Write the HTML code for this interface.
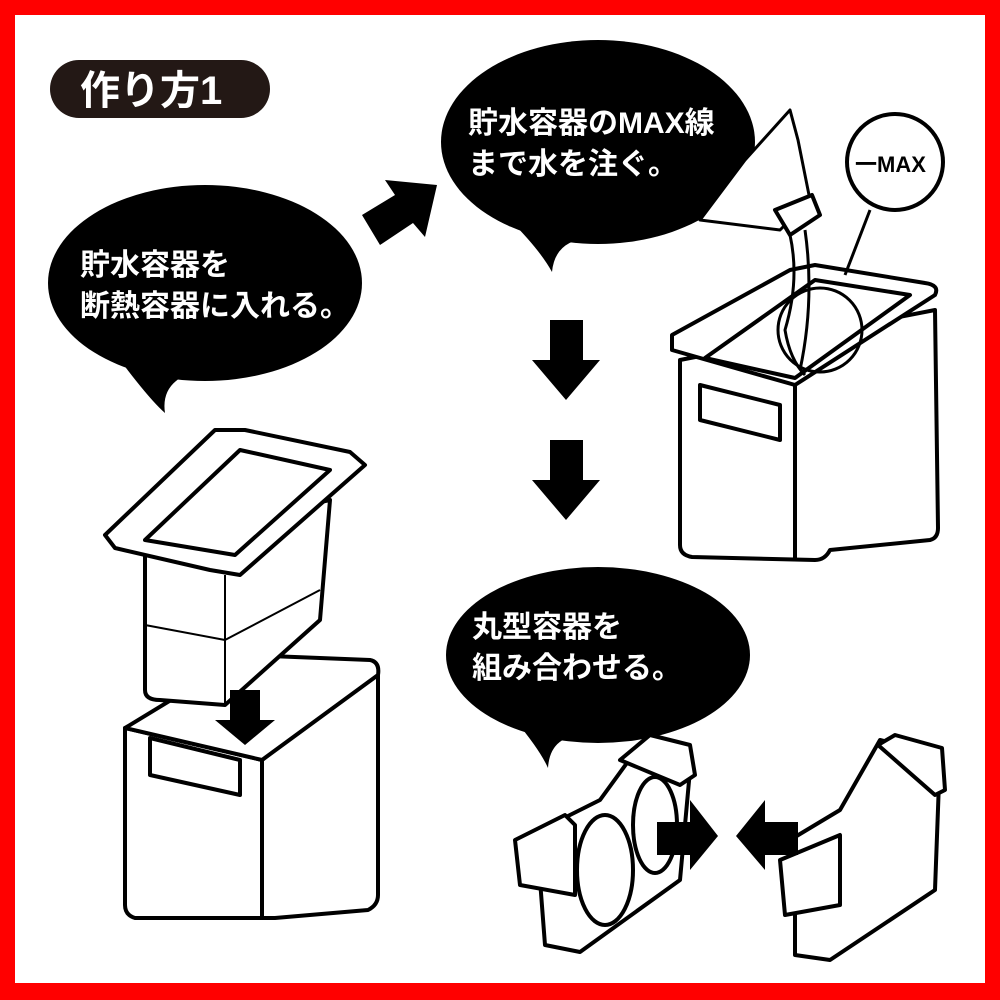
<!DOCTYPE html>
<html><head><meta charset="utf-8"><style>
html,body{margin:0;padding:0;background:#fff}
svg{display:block}
text{font-family:"Liberation Sans","Noto Sans CJK JP",sans-serif;fill:#fff;font-weight:bold}
</style></head><body>
<svg width="1000" height="1000" viewBox="0 0 1000 1000" xmlns="http://www.w3.org/2000/svg">
<rect x="0" y="0" width="1000" height="1000" fill="#f00"/>
<rect x="15" y="15" width="970" height="968" fill="#fff"/>

<rect x="50" y="60" width="220" height="58" rx="29" fill="#231815"/>
<text x="80" y="104" font-size="40">作り方1</text>

<ellipse cx="205" cy="283" rx="157" ry="98" fill="#000"/>
<path d="M120 360 Q150 400 165 413 Q160 380 200 370 Z" fill="#000"/>
<text x="80" y="275" font-size="30" font-weight="normal">貯水容器を</text>
<text x="80" y="316" font-size="30" font-weight="normal">断熱容器に入れる。</text>

<ellipse cx="598" cy="142" rx="157" ry="102" fill="#000"/>
<path d="M510 220 Q540 250 552 272 Q555 240 590 238 Z" fill="#000"/>
<text x="468" y="133" font-size="30" font-weight="normal">貯水容器のMAX線</text>
<text x="468" y="174" font-size="30" font-weight="normal">まで水を注ぐ。</text>

<ellipse cx="598" cy="655" rx="152" ry="88" fill="#000"/>
<path d="M515 720 Q540 750 548 768 Q550 735 585 735 Z" fill="#000"/>
<text x="472" y="637" font-size="30" font-weight="normal">丸型容器を</text>
<text x="472" y="678" font-size="30" font-weight="normal">組み合わせる。</text>

<polygon points="362,215 395,195 385,180 437,185 425,237 413,223 380,245" fill="#000"/>
<polygon points="550,320 583,320 583,360 600,360 566,400 532,360 550,360" fill="#000"/>
<polygon points="550,440 583,440 583,480 600,480 566,520 532,480 550,480" fill="#000"/>

<g fill="#fff" stroke="#000" stroke-width="4" stroke-linejoin="round">
<path d="M125 728 L262 760 L378 668 L378 895 Q378 905 368 910 L275 918 L135 918 Q125 915 125 905 Z"/>
<path d="M125 728 L245 655 L370 660 Q380 662 378 675 L262 760 Z"/>
<path d="M262 760 L262 918" fill="none"/>
<path d="M150 738 L240 760 L240 795 L150 775 Z"/>
<path d="M145 540 L145 690 Q145 700 160 700 L225 705 L320 620 L330 500 Z"/>
<path d="M145 625 L225 640 L320 590" fill="none" stroke-width="2"/>
<path d="M105 535 L215 430 L245 430 L350 452 L365 465 L240 575 L210 570 L115 548 Z"/>
<path d="M145 540 L240 450 L330 470 L235 555 Z"/>
<path d="M225 575 L225 705" fill="none" stroke-width="2"/>
<path d="M230 690 L230 720 L215 720 L245 745 L275 720 L260 720 L260 690" fill="#000" stroke="none"/>
<path d="M680 360 L680 545 Q680 555 692 557 L815 560 Q825 560 830 550 L930 540 Q938 538 938 528 L935 310 Z"/>
<path d="M672 350 L795 385 L935 295 Q940 285 925 283 L815 265 L790 270 L672 335 Z"/>
<path d="M705 358 L795 378 L910 295 L815 280 Z"/>
<path d="M795 385 L795 560" fill="none"/>
<path d="M700 385 L780 405 L780 440 L700 420 Z"/>
<path d="M700 220 L745 160 L790 110 L798 140 L810 200 L780 230 Z" stroke-width="3"/>
<path d="M775 210 L812 195 L820 215 L790 235 Z"/>
<path d="M790 235 Q800 280 785 330 Q790 360 805 375" fill="none" stroke-width="3"/>
<path d="M805 230 Q815 300 800 370" fill="none" stroke-width="3"/>
<circle cx="895" cy="162" r="48"/>
<line x1="870" y1="210" x2="845" y2="275" stroke-width="3"/>
<circle cx="820" cy="330" r="42" fill="none" stroke-width="3"/>
<path d="M540 880 L545 945 L580 952 L680 880 L690 770 L640 745 L600 800 L560 820 Z"/>
<path d="M515 840 L565 815 L575 825 L575 895 L520 885 Z"/>
<path d="M620 760 L650 735 L690 745 L695 775 L680 785 Z"/>
<ellipse cx="605" cy="870" rx="28" ry="55"/>
<ellipse cx="655" cy="825" rx="22" ry="48"/>
<path d="M795 900 L795 955 L830 960 L935 890 L940 755 L880 740 L840 810 L790 840 Z"/>
<path d="M780 860 L840 835 L840 905 L785 915 Z"/>
<path d="M878 745 L895 735 L942 748 L945 790 L935 795 Z"/>
</g>
<polygon points="657,822 690,822 690,800 718,836 690,870 690,855 657,855" fill="#000"/>
<polygon points="798,822 765,822 765,800 736,836 765,870 765,855 798,855" fill="#000"/>
<text x="855" y="172" font-size="22" style="fill:#000">一MAX</text>
</svg>
</body></html>
